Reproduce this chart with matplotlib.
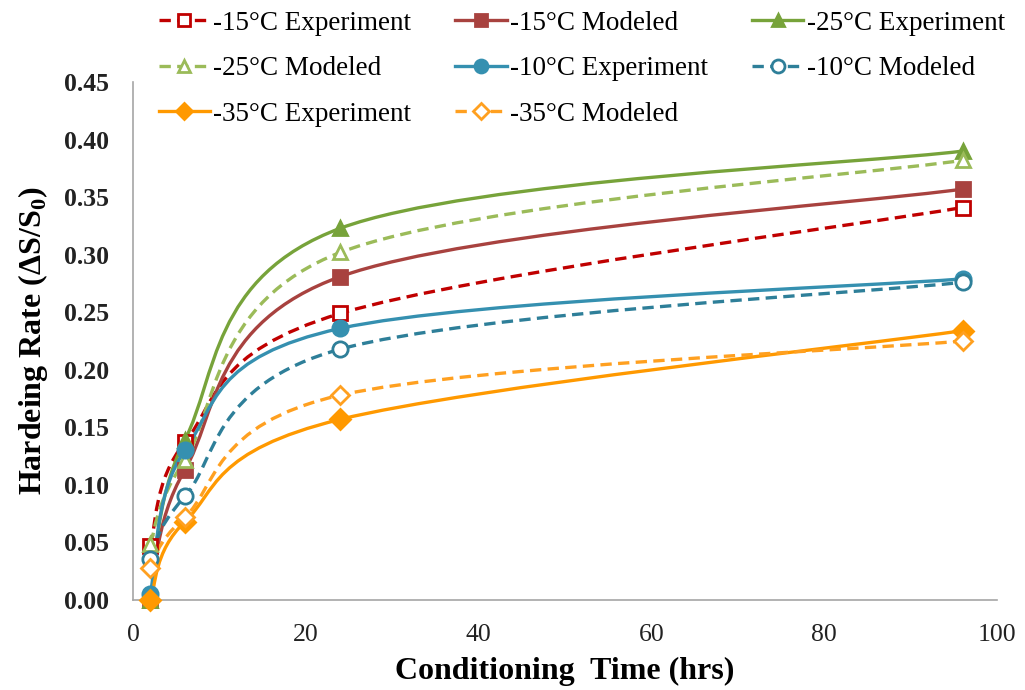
import numpy as np
import matplotlib.pyplot as plt
from matplotlib.path import Path
from matplotlib.patches import PathPatch
from matplotlib.lines import Line2D

plt.rcParams['font.family'] = ['Liberation Serif', 'DejaVu Serif']
plt.rcParams['mathtext.fontset'] = 'custom'
plt.rcParams['mathtext.rm'] = 'Liberation Serif'
plt.rcParams['mathtext.bf'] = 'Liberation Serif:bold'

# conditioning time (hrs)
hours = [2, 6, 24, 96]

# hardening rate per series
m15_exp = [0.047, 0.137, 0.249, 0.341]
m15_mod = [0.000, 0.113, 0.281, 0.357]
m25_exp = [0.000, 0.139, 0.323, 0.390]
m25_mod = [0.049, 0.122, 0.302, 0.382]
m10_exp = [0.005, 0.130, 0.236, 0.279]
m10_mod = [0.036, 0.090, 0.218, 0.276]
m35_exp = [0.000, 0.068, 0.157, 0.234]
m35_mod = [0.028, 0.072, 0.178, 0.225]

labels = ['-15°C Experiment', '-15°C Modeled', '-25°C Experiment', '-25°C Modeled',
          '-10°C Experiment', '-10°C Modeled', '-35°C Experiment', '-35°C Modeled']
values = [m15_exp, m15_mod, m25_exp, m25_mod, m10_exp, m10_mod, m35_exp, m35_mod]
colors = ['#C00000', '#A8423F', '#77A33A', '#9BBB59', '#3590B0', '#2E7F99', '#FF9900', '#FFA020']
markers = ['s', 's', '^', '^', 'o', 'o', 'D', 'D']
filled = [False, True, True, False, True, False, True, False]
dashed = [True, False, False, True, False, True, False, True]
msizes = [10, 10, 10, 10, 11, 11, 10, 9]


# excel-like smoothed line through the points (bezier segments)
def smooth_path(x, y):
    p = np.column_stack([x, y]).astype(float)
    verts = [p[0]]
    codes = [Path.MOVETO]
    n = len(p)
    for i in range(n - 1):
        p0 = p[i - 1] if i > 0 else p[i]
        p1 = p[i]
        p2 = p[i + 1]
        p3 = p[i + 2] if i + 2 < n else p[i + 1]
        c1 = p1 + (p2 - p0) / 6.0
        c2 = p2 - (p3 - p1) / 6.0
        verts += [c1, c2, p2]
        codes += [Path.CURVE4] * 3
    return Path(verts, codes)


fig = plt.figure(figsize=(10.25, 6.9), dpi=100)
ax = fig.add_axes([0.1298, 0.1304, 0.843, 0.7507])

handles = []
for lab, val, col, mk, fl, da, ms in zip(labels, values, colors, markers, filled, dashed, msizes):
    ls = (0, (3.4, 1.9)) if da else '-'
    patch = PathPatch(smooth_path(hours, val), facecolor='none', edgecolor=col,
                      lw=2.4, linestyle=ls, capstyle='butt')
    ax.add_patch(patch)
    fc = col if fl else 'white'
    ax.plot(hours, val, linestyle='none', marker=mk, markersize=ms,
            markerfacecolor=fc, markeredgecolor=col, markeredgewidth=2, clip_on=False, zorder=3)
    handles.append(Line2D([0], [0], color=col, lw=2.4, linestyle=ls, marker=mk,
                          markersize=ms * 0.85, markerfacecolor=fc, markeredgecolor=col,
                          markeredgewidth=2))

ax.set_xlim(0, 100)
ax.set_ylim(0, 0.45)
ax.set_xticks(np.arange(0, 101, 20))
ax.set_yticks(np.arange(0, 0.451, 0.05))
ax.set_yticklabels([f'{v:.2f}' for v in np.arange(0, 0.451, 0.05)], fontweight='bold')
ax.tick_params(axis='both', length=0, labelsize=18.5, colors='#222222')
ax.tick_params(axis='y', pad=17)
ax.tick_params(axis='x', pad=17)

for s in ['top', 'right']:
    ax.spines[s].set_visible(False)
for s in ['left', 'bottom']:
    ax.spines[s].set_color('#A6A6A6')
    ax.spines[s].set_linewidth(1.2)

ax.set_xlabel('Conditioning  Time (hrs)', fontsize=23, fontweight='bold', labelpad=8)
ax.set_ylabel('Hardeing Rate (ΔS/S$_\\mathbf{0}$)', fontsize=23, fontweight='bold', labelpad=10)

order = [0, 3, 6, 1, 4, 7, 2, 5]
fig.legend([handles[i] for i in order], [labels[i] for i in order],
           ncol=3, loc='upper left', bbox_to_anchor=(0.131, 1.02), frameon=False,
           fontsize=19.5, handlelength=1.9, handletextpad=0.12, columnspacing=1.62,
           labelspacing=0.76)

fig.savefig('out.png', dpi=100)
